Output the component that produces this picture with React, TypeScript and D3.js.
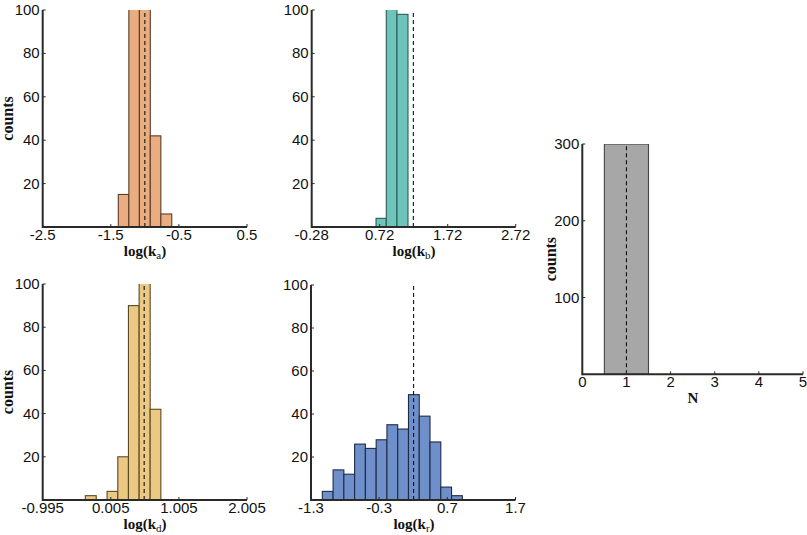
import React from "react";
import * as d3 from "d3";

// ---------- data ----------
const kaEdges = [-1.39, -1.235, -1.08, -0.92, -0.765, -0.605];
const kaCounts = [15, 125, 112, 42, 6];
const kaTicks = [-2.5, -1.5, -0.5, 0.5];
const kaTrue = -1.0;

const kbEdges = [0.666, 0.817, 0.974, 1.136];
const kbCounts = [4, 198, 98];
const kbTicks = [-0.28, 0.72, 1.72, 2.72];
const kbTrue = 1.215;

const kdEdges = [-0.369, -0.209, -0.05, 0.108, 0.264, 0.421, 0.583, 0.74];
const kdCounts = [2, 0, 4, 20, 90, 142, 42];
const kdTicks = [-0.995, 0.005, 1.005, 2.005];
const kdTrue = 0.495;

const krEdges = [-1.134, -0.976, -0.818, -0.66, -0.502, -0.344, -0.186, -0.028, 0.13, 0.288, 0.446, 0.604, 0.762, 0.92];
const krCounts = [4, 14, 12, 26, 24, 28, 35, 33, 49, 39, 27, 6, 2];
const krTicks = [-1.3, -0.3, 0.7, 1.7];
const krTrue = 0.205;

const nEdges = [0.5, 1.5];
const nCounts = [300];
const nTicks = [0, 1, 2, 3, 4, 5];
const nTrue = 1;

const countTicks100 = [20, 40, 60, 80, 100];
const countTicks300 = [100, 200, 300];

type PanelProps = {
  id: string;
  x0: number; x1: number; yTop: number; yBot: number;
  xDomain: [number, number]; yMax: number;
  edges: number[]; counts: number[];
  xTicks: number[]; yTicks: number[];
  trueVal: number;
  fill: string; stroke: string;
  xLabel: React.ReactNode; xLabelX: number; xLabelY: number;
  yLabelX: number; showYLabel: boolean;
  fmt: (v: number) => string;
};

function Panel(p: PanelProps) {
  const x = d3.scaleLinear().domain(p.xDomain).range([p.x0, p.x1]);
  const y = d3.scaleLinear().domain([0, p.yMax]).range([p.yBot, p.yTop]);
  const tickFont = "'Liberation Sans', Arial, sans-serif";
  const bins = p.counts.map((c, i) => ({ a: p.edges[i], b: p.edges[i + 1], c }));
  return (
    <g>
      <defs>
        <clipPath id={"clip-" + p.id}>
          <rect x={p.x0} y={p.yTop} width={p.x1 - p.x0} height={p.yBot - p.yTop} />
        </clipPath>
      </defs>
      <g clipPath={`url(#clip-${p.id})`}>
        {bins.filter(b => b.c > 0).map((b, i) => (
          <rect key={i} x={x(b.a)} y={y(b.c)} width={x(b.b) - x(b.a)} height={p.yBot - y(b.c)}
            fill={p.fill} stroke={p.stroke} strokeWidth={1.1} />
        ))}
      </g>
      <line x1={x(p.trueVal)} x2={x(p.trueVal)} y1={p.yBot} y2={p.yTop}
        stroke="#111" strokeWidth={1.1} strokeDasharray="4,3" />
      {/* axes */}
      <line x1={p.x0} x2={p.x1} y1={p.yBot} y2={p.yBot} stroke="#2a2a2a" strokeWidth={2} />
      <line x1={p.x0} x2={p.x0} y1={p.yBot + 1} y2={p.yTop} stroke="#2a2a2a" strokeWidth={2} />
      {p.xTicks.map((t, i) => (
        <g key={"xt" + i}>
          <line x1={x(t)} x2={x(t)} y1={p.yBot} y2={p.yBot - 3} stroke="#2a2a2a" strokeWidth={1} />
          <text x={x(t)} y={p.yBot + 13} textAnchor="middle" fontFamily={tickFont} fontSize={15} fill="#111">{p.fmt(t)}</text>
        </g>
      ))}
      {p.yTicks.map((t, i) => (
        <g key={"yt" + i}>
          <line x1={p.x0} x2={p.x0 + 3} y1={y(t)} y2={y(t)} stroke="#2a2a2a" strokeWidth={1} />
          <text x={p.x0 - 3} y={y(t) + 5} textAnchor="end" fontFamily={tickFont} fontSize={15} fill="#111">{t}</text>
        </g>
      ))}
      <text x={p.xLabelX} y={p.xLabelY} textAnchor="middle" fontFamily="'Liberation Serif', 'Times New Roman', serif" fontSize={15} fontWeight={600} fill="#111">{p.xLabel}</text>
      {p.showYLabel && (
        <text transform={`translate(${p.yLabelX},${(p.yTop + p.yBot) / 2}) rotate(-90)`} textAnchor="middle"
          fontFamily="'Liberation Serif', 'Times New Roman', serif" fontSize={16} fontWeight={600} fill="#111">counts</text>
      )}
    </g>
  );
}

const logLabel = (sub: string) => (
  <>
    log(k<tspan fontSize={11} fontWeight={400} dy={3}>{sub}</tspan><tspan dy={-3}>)</tspan>
  </>
);

export default function App() {
  const fmtN = (v: number) => String(v);
  return (
    <svg width={807} height={535} style={{ position: "absolute", left: 0, top: 0, background: "#fff" }}>
      <Panel id="ka" x0={42.7} x1={247} yTop={10} yBot={227} xDomain={[-2.5, 0.5]} yMax={100}
        edges={kaEdges} counts={kaCounts} xTicks={kaTicks} yTicks={countTicks100} trueVal={kaTrue}
        fill="#EAAD80" stroke="#5b3b28" xLabel={logLabel("a")} xLabelX={145} xLabelY={256}
        yLabelX={13} showYLabel={true} fmt={fmtN} />
      <Panel id="kb" x0={311.7} x1={515.7} yTop={10} yBot={227} xDomain={[-0.28, 2.72]} yMax={100}
        edges={kbEdges} counts={kbCounts} xTicks={kbTicks} yTicks={countTicks100} trueVal={kbTrue}
        fill="#6DC4B8" stroke="#2b5c56" xLabel={logLabel("b")} xLabelX={414} xLabelY={256}
        yLabelX={0} showYLabel={false} fmt={fmtN} />
      <Panel id="kd" x0={42.7} x1={247} yTop={284} yBot={500} xDomain={[-0.995, 2.005]} yMax={100}
        edges={kdEdges} counts={kdCounts} xTicks={kdTicks} yTicks={countTicks100} trueVal={kdTrue}
        fill="#EBC983" stroke="#5c4824" xLabel={logLabel("d")} xLabelX={145} xLabelY={529}
        yLabelX={13} showYLabel={true} fmt={fmtN} />
      <Panel id="kr" x0={311} x1={515.5} yTop={285} yBot={500} xDomain={[-1.3, 1.7]} yMax={100}
        edges={krEdges} counts={krCounts} xTicks={krTicks} yTicks={countTicks100} trueVal={krTrue}
        fill="#6F8FCA" stroke="#1e2b47" xLabel={logLabel("r")} xLabelX={414} xLabelY={529}
        yLabelX={0} showYLabel={false} fmt={fmtN} />
      <Panel id="n" x0={582.3} x1={803} yTop={144} yBot={374.3} xDomain={[0, 5]} yMax={300}
        edges={nEdges} counts={nCounts} xTicks={nTicks} yTicks={countTicks300} trueVal={nTrue}
        fill="#A7A7A7" stroke="#454545" xLabel={"N"} xLabelX={693} xLabelY={403}
        yLabelX={556} showYLabel={true} fmt={fmtN} />
    </svg>
  );
}
